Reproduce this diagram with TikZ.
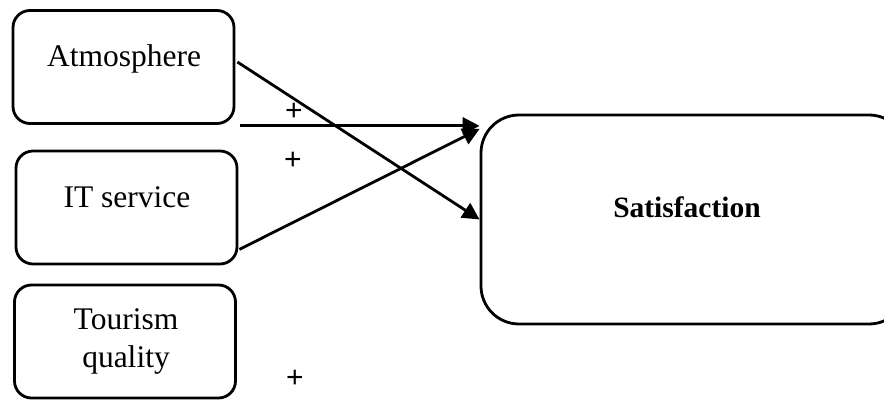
\documentclass[tikz,border=0pt]{standalone}
\usepackage{fontspec}
\setmainfont{Liberation Serif}
\newfontfamily\plusfont{Liberation Sans}
\usetikzlibrary{arrows.meta,calc}
\begin{document}
\begin{tikzpicture}[x=1pt,y=-1pt,
  factor/.style={draw,line width=2.8pt,rounded corners=17pt,minimum width=221pt,minimum height=113pt,inner sep=0pt},
  outcome/.style={draw,line width=2.8pt,rounded corners=38pt,minimum width=426pt,minimum height=209pt,inner sep=0pt},
  lbl/.style={anchor=base,inner sep=0pt,font=\fontsize{31.5}{37}\selectfont},
  sign/.style={inner sep=0pt,font=\plusfont\fontsize{30}{33}\selectfont},
  link/.style={line width=2.8pt,-{Triangle[length=17pt,width=17pt]}}]
\useasboundingbox (0,0) rectangle (884,414);

% boxes
\node[factor] (atm) at (123.5,67) {};
\node[factor] (its) at (126.5,207.5) {};
\node[factor] (tou) at (125,341.5) {};
\node[outcome] (sat) at (694,219.5) {};

% box texts
\node[lbl] (atmT) at (124,67) {Atmosphere};
\node[lbl] (itsT) at (127,208) {IT service};
\node[lbl] (touT1) at (126,330) {Tourism};
\node[lbl] (touT2) at (126,367) {quality};
\node[lbl,font=\bfseries\fontsize{29.5}{36}\selectfont] (satT) at (687,218) {Satisfaction};

% connector ends
\coordinate (atmOut) at ($(atm.east)+(2,-5)$);
\coordinate (hIn) at ($(atm.south east)+(5,1)$);
\coordinate (hEnd) at (hIn -| sat.west);
\coordinate (itsOut) at ($(its.south east)+(1,-16)$);
\coordinate (itsEnd) at ($(sat.west |- hIn)+(0,3)$);

% connectors
\draw[link] (atmOut) -- (sat.west);
\draw[link] (hIn) -- (hEnd);
\draw[link] (itsOut) -- (itsEnd);

% signs
\node[sign] (p1) at (294,112) {+};
\node[sign] (p2) at (293,161) {+};
\node[sign] (p3) at (295,379) {+};
\end{tikzpicture}
\end{document}
